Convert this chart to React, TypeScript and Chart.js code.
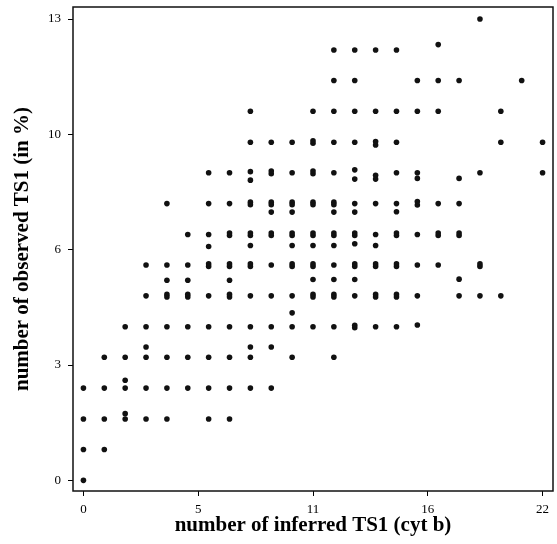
import React, { useEffect, useRef } from "react";
import { Chart, registerables } from "chart.js";

Chart.register(...registerables);

// x: number of inferred TS1 (cyt b), one column per integer value
const inferredTS1 = [0, 1, 2, 3, 4, 5, 6, 7, 8, 9, 10, 11, 12, 13, 14, 15, 16, 17, 18, 19, 20, 21, 22];

// y: number of observed TS1 (in %) read for each column
const observedAt0 = [0, 0.87, 1.73, 2.6];
const observedAt1 = [0.87, 1.73, 2.6, 3.47];
const observedAt2 = [1.73, 1.88, 2.6, 2.82, 3.47, 4.33];
const observedAt3 = [1.73, 2.6, 3.47, 3.76, 4.33, 5.2, 6.07];
const observedAt4 = [1.73, 2.6, 3.47, 4.33, 5.17, 5.24, 5.64, 6.07, 7.8];
const observedAt5 = [2.6, 3.47, 4.33, 5.17, 5.24, 5.64, 6.07, 6.93];
const observedAt6 = [1.73, 2.6, 3.47, 4.33, 5.2, 6.03, 6.1, 6.59, 6.93, 7.8, 8.67];
const observedAt7 = [1.73, 2.6, 3.47, 4.33, 5.17, 5.24, 5.64, 6.03, 6.1, 6.9, 6.97, 7.8, 8.67];
const observedAt8 = [2.6, 3.47, 3.76, 4.33, 5.2, 6.03, 6.1, 6.62, 6.9, 6.97, 7.77, 7.84, 8.46, 8.7, 9.53, 10.4];
const observedAt9 = [2.6, 3.76, 4.33, 5.2, 6.07, 6.9, 6.97, 7.56, 7.77, 7.84, 8.64, 8.72, 9.53];
const observedAt10 = [3.47, 4.33, 4.72, 5.2, 6.03, 6.1, 6.62, 6.9, 6.97, 7.56, 7.77, 7.84, 8.67, 9.53];
const observedAt11 = [4.33, 5.17, 5.24, 5.66, 6.03, 6.1, 6.62, 6.9, 6.97, 7.77, 7.84, 8.64, 8.72, 9.5, 9.57, 10.4];
const observedAt12 = [3.47, 4.33, 5.17, 5.24, 5.66, 6.07, 6.62, 6.9, 6.97, 7.56, 7.77, 7.84, 8.67, 9.53, 10.4, 11.27, 12.13];
const observedAt13 = [4.3, 4.37, 5.2, 5.66, 6.03, 6.1, 6.67, 6.9, 6.97, 7.56, 7.8, 8.49, 8.75, 9.53, 10.4, 11.27, 12.13];
const observedAt14 = [4.33, 5.17, 5.24, 6.03, 6.1, 6.62, 6.93, 7.8, 8.49, 8.6, 9.45, 9.55, 10.4, 12.13];
const observedAt15 = [4.33, 5.17, 5.24, 6.03, 6.1, 6.9, 6.97, 7.57, 7.8, 8.67, 9.53, 10.4, 12.13];
const observedAt16 = [4.38, 5.2, 6.07, 6.93, 7.76, 7.86, 8.51, 8.67, 10.4, 11.27];
const observedAt17 = [6.07, 6.9, 6.97, 7.8, 10.4, 11.27, 12.28];
const observedAt18 = [5.2, 5.67, 6.9, 6.97, 7.8, 8.51, 11.27];
const observedAt19 = [5.2, 6.03, 6.1, 8.67, 13];
const observedAt20 = [5.2, 9.53, 10.4];
const observedAt21 = [11.27];
const observedAt22 = [8.67, 9.53];

const observedColumns = [
  observedAt0, observedAt1, observedAt2, observedAt3, observedAt4, observedAt5,
  observedAt6, observedAt7, observedAt8, observedAt9, observedAt10, observedAt11,
  observedAt12, observedAt13, observedAt14, observedAt15, observedAt16, observedAt17,
  observedAt18, observedAt19, observedAt20, observedAt21, observedAt22,
];

const xTickValues = [0, 5.5, 11, 16.5, 22];
const xTickLabels = ["0", "5", "11", "16", "22"];
const yTickValues = [0, 3.25, 6.5, 9.75, 13];
const yTickLabels = ["0", "3", "6", "10", "13"];

const xTitle = "number of inferred TS1 (cyt b)";
const yTitle = "number of observed TS1 (in %)";

const framePlugin = {
  id: "frameBox",
  afterDatasetsDraw(chart: any) {
    const { ctx, chartArea: a } = chart;
    ctx.save();
    ctx.strokeStyle = "#111";
    ctx.lineWidth = 1.5;
    ctx.strokeRect(a.left, a.top, a.right - a.left, a.bottom - a.top);
    ctx.restore();
  },
};

export default function App() {
  const ref = useRef<HTMLCanvasElement | null>(null);

  useEffect(() => {
    if (!ref.current) return;
    const points = inferredTS1.flatMap((x, i) =>
      observedColumns[i].map((y) => ({ x, y }))
    );
    const tickFont = { family: "'Liberation Serif', 'DejaVu Serif', serif", size: 13 };
    const titleFont = { family: "'Liberation Serif', 'DejaVu Serif', serif", size: 21, weight: "bold" as const };
    const chart = new Chart(ref.current, {
      type: "scatter",
      data: {
        datasets: [
          {
            data: points,
            backgroundColor: "#111",
            borderColor: "#111",
            pointRadius: 2.8,
            pointBorderWidth: 0,
          },
        ],
      },
      options: {
        responsive: false,
        animation: false,
        layout: { padding: { left: 0, right: 2, top: 7, bottom: 0 } },
        plugins: { legend: { display: false }, tooltip: { enabled: false } },
        scales: {
          x: {
            type: "linear",
            min: -0.5,
            max: 22.5,
            afterBuildTicks: (s: any) => {
              s.ticks = xTickValues.map((v) => ({ value: v }));
            },
            afterFit: (s: any) => {
              s.height = 53;
              s.paddingLeft = 0;
              s.paddingRight = 0;
              s.paddingTop = 0;
              s.paddingBottom = 0;
            },
            ticks: {
              callback: (v: any) => xTickLabels[xTickValues.indexOf(Number(v))],
              font: tickFont,
              color: "#000",
              padding: 6,
              maxRotation: 0,
              autoSkip: false,
            },
            grid: { display: true, drawOnChartArea: false, drawTicks: true, tickLength: 5, color: "#000" },
            border: { display: false },
            title: {
              display: true,
              text: xTitle,
              font: titleFont,
              color: "#000",
              padding: { top: 0, bottom: 6 },
            },
          },
          y: {
            type: "linear",
            min: -0.3,
            max: 13.34,
            afterBuildTicks: (s: any) => {
              s.ticks = yTickValues.map((v) => ({ value: v }));
            },
            afterFit: (s: any) => {
              s.width = 73;
              s.paddingLeft = 0;
              s.paddingRight = 0;
              s.paddingTop = 0;
              s.paddingBottom = 0;
            },
            ticks: {
              callback: (v: any) => yTickLabels[yTickValues.indexOf(Number(v))],
              font: tickFont,
              color: "#000",
              padding: 7,
              autoSkip: false,
            },
            grid: { display: true, drawOnChartArea: false, drawTicks: true, tickLength: 5, color: "#000" },
            border: { display: false },
            title: {
              display: true,
              text: yTitle,
              font: titleFont,
              color: "#000",
              padding: { top: 10, bottom: 0 },
            },
          },
        },
      },
      plugins: [framePlugin],
    });
    return () => chart.destroy();
  }, []);

  return (
    <div style={{ position: "absolute", left: 0, top: 0, width: 557, height: 544, background: "#fff" }}>
      <canvas ref={ref} width={557} height={544} style={{ width: 557, height: 544, display: "block" }} />
    </div>
  );
}
